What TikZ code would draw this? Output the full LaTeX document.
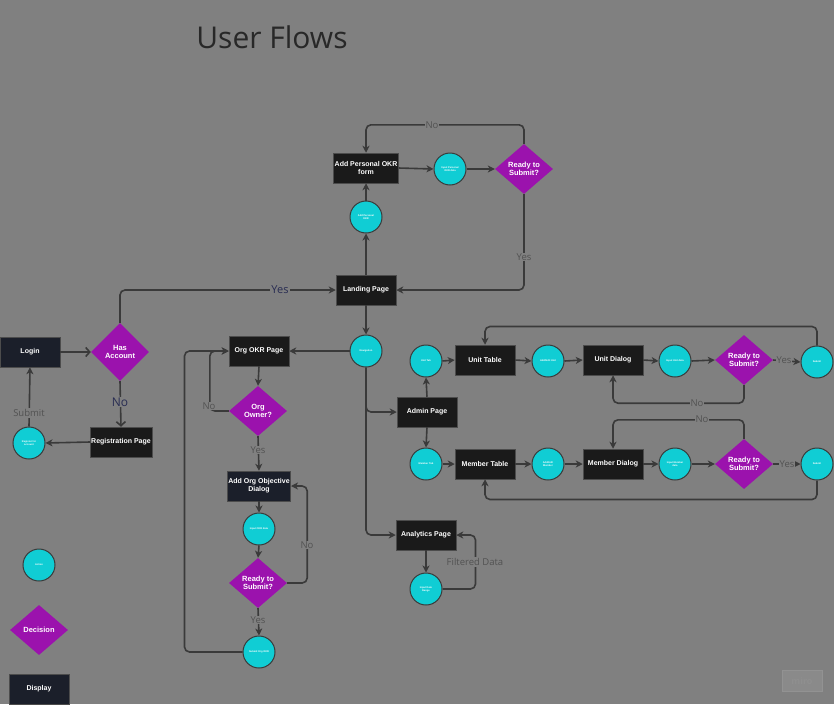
\documentclass[tikz,border=0pt]{standalone}
\usepackage{fontspec}
\setmainfont{Liberation Sans}
\newfontfamily\labfont{Open Sans}
\usetikzlibrary{shapes.geometric,arrows.meta}
\definecolor{bg}{RGB}{128,128,128}
\definecolor{boxc}{RGB}{26,26,26}
\definecolor{navy}{RGB}{27,31,42}
\definecolor{cyanc}{RGB}{16,205,212}
\definecolor{purp}{RGB}{155,18,173}
\definecolor{linec}{RGB}{58,58,58}
\definecolor{labc}{RGB}{82,82,82}
\definecolor{navlab}{RGB}{40,44,82}
\definecolor{titlec}{RGB}{40,40,40}
\begin{document}
\begin{tikzpicture}[x=1pt,y=-1pt,
  dispbox/.style={rectangle, fill=boxc, draw=black!70, line width=0.5pt, minimum width=60pt, minimum height=30pt, text=white, font=\fontsize{7}{8}\selectfont\bfseries, align=center, inner sep=1pt},
  navybox/.style={dispbox, fill=navy},
  act/.style={circle, fill=cyanc, draw=linec, line width=1pt, minimum size=32pt, inner sep=0pt, text=white, font=\fontsize{2.5}{3}\selectfont\bfseries, align=center},
  dec/.style={diamond, fill=purp, minimum width=58pt, minimum height=50pt, inner sep=0pt, text=white, font=\fontsize{7.5}{8.5}\selectfont\bfseries, align=center},
  conn/.style={draw=linec, line width=1.6pt, -{Stealth[length=7pt,width=7pt,inset=2pt]}, rounded corners=5pt},
  barb/.style={draw=linec, line width=1.6pt, -{Straight Barb[length=4pt,width=9pt]}},
  lbl/.style={font=\labfont\fontsize{9.5}{10}\selectfont, text=labc, fill=bg, inner sep=1pt},
  navlbl/.style={font=\labfont\fontsize{11}{12}\selectfont, text=navlab, fill=bg, inner sep=1pt}
]
\fill[bg] (0,0) rectangle (834,704);
\useasboundingbox (0,0) rectangle (834,704);

\node[font=\labfont\fontsize{30}{32}\selectfont, text=titlec] (title) at (272,37) {User Flows};

% personal OKR
\node[dispbox] (apform) at (366,168) {Add Personal OKR\\form};
\node[act] (inpers) at (450,169) {Input Personal\\OKR data};
\node[dec] (rdy1) at (524,169) {Ready to\\Submit?};
\node[act] (addpers) at (366,217) {Add Personal\\OKR};
\node[dispbox] (landing) at (366,290) {Landing Page};
\node[act] (nav) at (366,351) {Navigation};

% login
\node[navybox] (login) at (30,352) {Login};
\node[dec, minimum height=58pt] (hasacc) at (120,352) {Has\\Account};
\node[dispbox] (reg) at (121,442) {Registration Page};
\node[act] (regacc) at (29,443) {Register for\\account};

% org
\node[dispbox] (orgokr) at (259,351) {Org OKR Page};
\node[dec] (orgown) at (258,411) {Org\\Owner?};
\node[navybox] (addorg) at (259,486) {Add Org Objective\\Dialog};
\node[act] (inokr) at (259,529) {Input OKR data};
\node[dec] (rdy2) at (258,583) {Ready to\\Submit?};
\node[act] (suborg) at (259,652) {Submit Org OKR};

% admin
\node[dispbox] (admin) at (427,412) {Admin Page};
\node[act] (utab) at (426,361) {Unit Tab};
\node[dispbox] (utable) at (485,360) {Unit Table};
\node[act] (aeunit) at (548,361) {Add/Edit Unit};
\node[dispbox] (udialog) at (613,360) {Unit Dialog};
\node[act] (inunit) at (675,361) {Input Unit data};
\node[dec] (rdy3) at (744,360) {Ready to\\Submit?};
\node[act] (usub) at (817,362) {Submit};

\node[act] (mtab) at (426,464) {Member Tab};
\node[dispbox] (mtable) at (485,464) {Member Table};
\node[act] (aemem) at (548,464) {Add/Edit\\Member};
\node[dispbox] (mdialog) at (613,464) {Member Dialog};
\node[act] (inmem) at (675,464) {Input Member\\data};
\node[dec] (rdy4) at (744,464) {Ready to\\Submit?};
\node[act] (msub) at (817,464) {Submit};

% analytics
\node[dispbox] (analytics) at (426,535) {Analytics Page};
\node[act] (drange) at (426,589) {Input Date\\Range};

% legend
\node[act] (legact) at (39,565) {Action};
\node[dec] (legdec) at (39,630) {Decision};
\node[navybox] (legdisp) at (39,689) {Display};

% watermark
\node[fill=white!8!bg, draw=white!14!bg, line width=0.5pt, minimum width=40pt, minimum height=21pt, inner sep=0pt, text=white!12!bg, font=\labfont\bfseries\fontsize{9}{10}\selectfont] (miro) at (802,681) {miro};

% connectors: login
\draw[barb] (login) -- (hasacc);
\draw[conn] (hasacc.north) |- (landing.west);
\node[navlbl] (lyes) at (280,290) {Yes};
\draw[barb] (hasacc.south) -- (reg.north);
\node[navlbl, font=\labfont\fontsize{12}{13}\selectfont] (lno) at (120,402) {No};
\draw[conn] (reg.west) -- (regacc.east);
\draw[conn] (regacc.north) -- (login.south);
\node[lbl] (lsub) at (29,413) {Submit};

% personal OKR
\draw[conn] (landing.north) -- (addpers.south);
\draw[conn] (addpers.north) -- (apform.south);
\draw[conn] (apform.east) -- (inpers.west);
\draw[conn] (inpers.east) -- (rdy1.west);
\draw[conn] (rdy1.north) -- ++(0,-19) -| (apform.north);
\node[lbl] (pno) at (432,125) {No};
\draw[conn] (rdy1.south) |- (landing.east);
\node[lbl] (pyes) at (524,257) {Yes};
\draw[conn] (landing.south) -- (nav.north);

% navigation
\draw[conn] (nav.west) -- (orgokr.east);
\draw[conn] (nav.south) |- (admin.west);
\draw[conn] (nav.south) |- (analytics.west);

% org
\draw[conn] (orgokr.south) -- (orgown.north);
\draw[conn] (orgown.west) -- ++(-19,0) |- (orgokr.west);
\node[lbl] (ono) at (209,406) {No};
\draw[conn] (orgown.south) -- (addorg.north);
\node[lbl] (oyes) at (258,450) {Yes};
\draw[conn] (addorg.south) -- (inokr.north);
\draw[conn] (inokr.south) -- (rdy2.north);
\draw[conn] (rdy2.east) -- ++(20,0) |- (addorg.east);
\node[lbl] (o2no) at (307,545) {No};
\draw[conn] (rdy2.south) -- (suborg.north);
\node[lbl] (o2yes) at (258,620) {Yes};
\draw[conn] (suborg.west) -- ++(-58,0) |- (orgokr.west);

% admin units
\draw[conn] (admin.north) -- (utab.south);
\draw[conn] (admin.south) -- (mtab.north);
\draw[conn] (utab.east) -- (utable.west);
\draw[conn] (utable.east) -- (aeunit.west);
\draw[conn] (aeunit.east) -- (udialog.west);
\draw[conn] (udialog.east) -- (inunit.west);
\draw[conn] (inunit.east) -- (rdy3.west);
\draw[conn] (rdy3.east) -- (usub.west);
\node[lbl] (uyes) at (784,360) {Yes};
\draw[conn] (usub.north) -- ++(0,-19) -| (utable.north);
\draw[conn] (rdy3.south) -- ++(0,18) -| (udialog.south);
\node[lbl] (uno) at (697,403) {No};

% admin members
\draw[conn] (mtab.east) -- (mtable.west);
\draw[conn] (mtable.east) -- (aemem.west);
\draw[conn] (aemem.east) -- (mdialog.west);
\draw[conn] (mdialog.east) -- (inmem.west);
\draw[conn] (inmem.east) -- (rdy4.west);
\draw[conn] (rdy4.east) -- (msub.west);
\node[lbl] (myes) at (787,464) {Yes};
\draw[conn] (rdy4.north) -- ++(0,-19) -| (mdialog.north);
\node[lbl] (mno) at (702,419) {No};
\draw[conn] (msub.south) -- ++(0,19) -| (mtable.south);

% analytics
\draw[conn] (analytics.south) -- (drange.north);
\draw[conn] (drange.east) -- ++(33,0) |- (analytics.east);
\node[lbl] (filt) at (475,562) {Filtered Data};
\end{tikzpicture}
\end{document}
